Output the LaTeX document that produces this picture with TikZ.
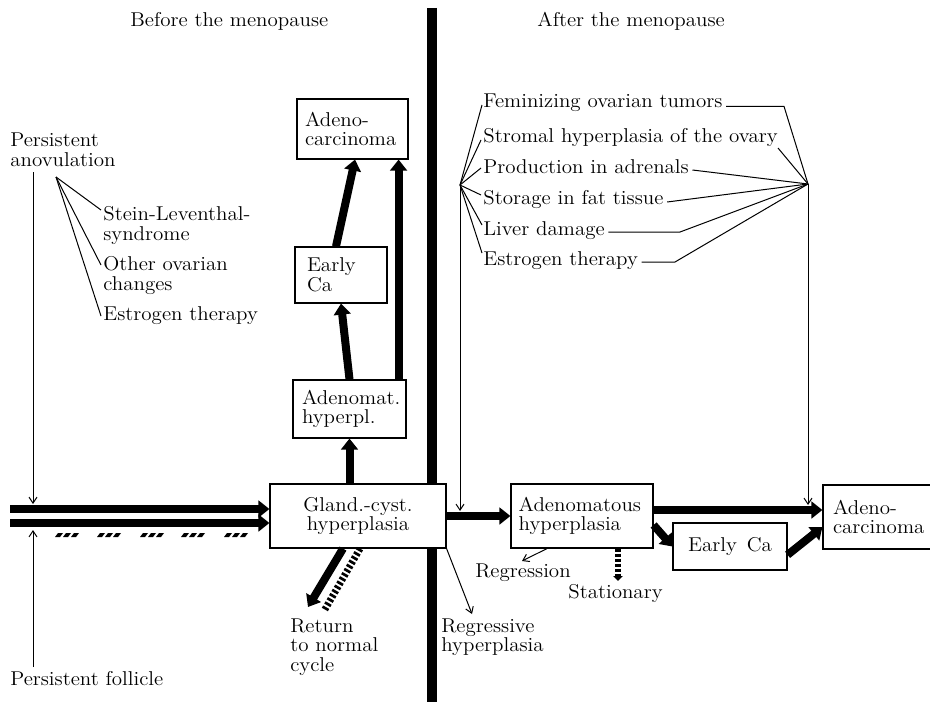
\documentclass[tikz,border=0pt]{standalone}
\usepackage{fontspec}
\setmainfont{Latin Modern Roman}[FakeStretch=1.05]
\usetikzlibrary{arrows.meta}
\begin{document}
\begin{tikzpicture}[x=0.6pt,y=-0.6pt,
  font={\fontsize{12pt}{11.8pt}\selectfont},
  lbl/.style={inner sep=0pt, anchor=base west},
  lblm/.style={inner sep=0pt, anchor=north west, align=left},
  box/.style={draw, line width=0.7pt, fill=white, inner ysep=0pt, anchor=center},
  fat/.style={line width=4.8pt, -{Triangle[length=6.6pt,width=10pt]}},
  hatched/.style={line width=4.2pt, dash pattern=on 1.6pt off 1.3pt},
  stat/.style={line width=4pt, dash pattern=on 1.8pt off 1.2pt, -{Triangle[length=3pt,width=5.6pt]}},
  hair/.style={line width=0.6pt},
  hairarrow/.style={line width=0.6pt, -{Straight Barb[length=3.6pt,width=4.8pt]}},
  divider/.style={line width=6pt},
]
\useasboundingbox (0,0) rectangle (930,702);

% headings
\node[lbl] (hb) at (130,27) {Before the menopause};
\node[lbl] (ha) at (537,27) {After the menopause};

% the menopause divider
\coordinate (d1) at (432,8);
\coordinate (d2) at (432,702);
\draw[divider] (d1) -- (d2);

% ---------- before the menopause ----------
\node[lblm] (pa) at (10,133) {Persistent\\anovulation};
\node[lblm] (sl) at (103,206) {Stein-Leventhal-\\syndrome};
\node[lblm] (oc) at (103,256) {Other ovarian\\changes};
\node[lbl]  (et1) at (103,320) {Estrogen therapy};
\node[lbl]  (pf) at (10,685) {Persistent follicle};

\coordinate (pb) at (56,177);
\draw[hair] (pb) -- ([shift={(-1.2pt,-2.4pt)}]sl.north west);
\draw[hair] (pb) -- ([shift={(-1.2pt,-5.4pt)}]oc.north west);
\draw[hair] (pb) -- ([shift={(-1.2pt,2.4pt)}]et1.base west);

% boxes of the left column
\node[box, text width=96pt, inner xsep=4.8pt, minimum height=38.4pt, align=center] (gland) at (358,516) {Gland.-cyst.\\hyperplasia};
\node[box, text width=57pt, inner xsep=5.4pt, minimum height=34.8pt, align=left] (adhyp) at (349.5,409) {Adenomat.\\hyperpl.};
\node[box, text width=40.8pt, inner xsep=7.2pt, minimum height=33.6pt, align=left] (earlyL) at (341,275) {Early\\Ca};
\node[box, text width=57pt, inner xsep=4.8pt, minimum height=36pt, align=left] (adenoL) at (352.5,129) {Adeno-\\carcinoma};

% the two inflowing streams
\coordinate (in1) at (10,509);
\coordinate (in2) at (10,523);
\draw[fat] (in1) -- (in1 -| gland.west);
\draw[fat] (in2) -- (in2 -| gland.west);

% hatched marks under the lower stream
\foreach \x in {55,97,140,181,224}{
  \foreach \i in {0,8,16}{
    \fill ({\x+\i},537) -- ({\x+\i+5},537) -- ({\x+\i+8},533) -- ({\x+\i+3},533) -- cycle;
  }
}

% feeder lines of the streams
\coordinate (pa1) at (33,172);
\coordinate (pa2) at (33,504);
\draw[hairarrow] (pa1) -- (pa2);
\coordinate (pf1) at (33,667);
\coordinate (pf2) at (33,530);
\draw[hairarrow] (pf1) -- (pf2);

% progression before the menopause
\draw[fat] (gland.north -| adhyp.south) -- (adhyp.south);
\draw[fat] (adhyp.north) -- (earlyL.south);
\draw[fat] ([xshift=-3pt]earlyL.north) -- ([xshift=1.5pt]adenoL.south);
\coordinate (v1) at ([xshift=-4.8pt]adhyp.north east);
\draw[fat] (v1) -- (v1 |- adenoL.south);

% return to the normal cycle
\node[lblm] (ret) at (290,618) {Return\\to normal\\cycle};
\coordinate (rt1) at (308,607);
\coordinate (rt2) at (324,611);
\draw[fat] ([xshift=-9pt]gland.south) -- (rt1);
\draw[hatched] ([xshift=1.2pt]gland.south) -- (rt2);

% regressive hyperplasia
\node[lblm] (rgv) at (441,618) {Regressive\\hyperplasia};
\coordinate (rgt) at (472,614);
\draw[hairarrow] (gland.south east) -- (rgt);

% ---------- after the menopause ----------
\node[lbl] (f1) at (483,108) {Feminizing ovarian tumors};
\node[lbl] (f2) at (483,142) {Stromal hyperplasia of the ovary};
\node[lbl] (f3) at (483,173) {Production in adrenals};
\node[lbl] (f4) at (483,204) {Storage in fat tissue};
\node[lbl] (f5) at (483,235) {Liver damage};
\node[lbl] (f6) at (483,265) {Estrogen therapy};

\coordinate (L) at (460,185);
\coordinate (R) at (808,184);
\draw[hair] (L) -- ([shift={(-0.6pt,1.8pt)}]f1.base west);
\draw[hair] (L) -- ([shift={(-1.2pt,1.2pt)}]f2.base west);
\draw[hair] (L) -- ([shift={(-1.2pt,3pt)}]f3.base west);
\draw[hair] (L) -- ([shift={(-1.2pt,5.4pt)}]f4.base west);
\draw[hair] (L) -- ([shift={(-0.6pt,6pt)}]f5.base west);
\draw[hair] (L) -- ([shift={(-0.6pt,7.2pt)}]f6.base west);

\coordinate (c1) at (784,0);
\coordinate (c5) at (680,0);
\coordinate (c6) at (675,0);
\coordinate (e1) at ([shift={(2pt,1pt)}]f1.base east);
\coordinate (e5) at ([shift={(2pt,1.8pt)}]f5.base east);
\coordinate (e6) at ([shift={(2pt,1.8pt)}]f6.base east);
\draw[hair] (e1) -- (e1 -| c1) -- (R);
\draw[hair] ([shift={(0pt,-3.6pt)}]f2.base east) -- (R);
\draw[hair] ([shift={(2pt,1.8pt)}]f3.base east) -- (R);
\draw[hair] ([shift={(2pt,1.2pt)}]f4.base east) -- (R);
\draw[hair] (e5) -- (e5 -| c5) -- (R);
\draw[hair] (e6) -- (e6 -| c6) -- (R);

% boxes of the right side
\node[box, text width=76pt, inner xsep=4.6pt, minimum height=38.4pt, align=left] (adhypR) at (582,516) {Adenomatous\\hyperplasia};
\node[box, text width=55.2pt, inner xsep=6pt, minimum height=38.4pt, align=left] (adenoR) at (879,517) {Adeno-\\carcinoma};
\node[box, text width=60pt, inner xsep=4.2pt, minimum height=28.2pt, align=center] (earlyR) at (730,546.5) {Early\hspace{0.5em}Ca};

% estrogen sources acting on both transitions
\coordinate (Lt) at (460,511);
\coordinate (Rt) at (808,505);
\draw[hairarrow] (L) -- (Lt);
\draw[hairarrow] (R) -- (Rt);

% progression after the menopause
\draw[fat] (gland.east) -- (adhypR.west);
\coordinate (h1) at ([yshift=3.6pt]adhypR.east);
\draw[fat] (h1) -- (h1 -| adenoR.west);
\draw[fat] ([yshift=-5.4pt]adhypR.east) -- (earlyR.west);
\draw[fat] ([yshift=-5pt]earlyR.east) -- ([yshift=-6pt]adenoR.west);

% regression and stationary course
\node[lbl] (rgn) at (475,577) {Regression};
\node[lbl] (sty) at (568,598) {Stationary};
\coordinate (rgnt) at (522,561);
\draw[hairarrow] ([xshift=-21pt]adhypR.south) -- (rgnt);
\coordinate (st) at (618,581);
\draw[stat] (adhypR.south -| st) -- (st);
\end{tikzpicture}
\end{document}
